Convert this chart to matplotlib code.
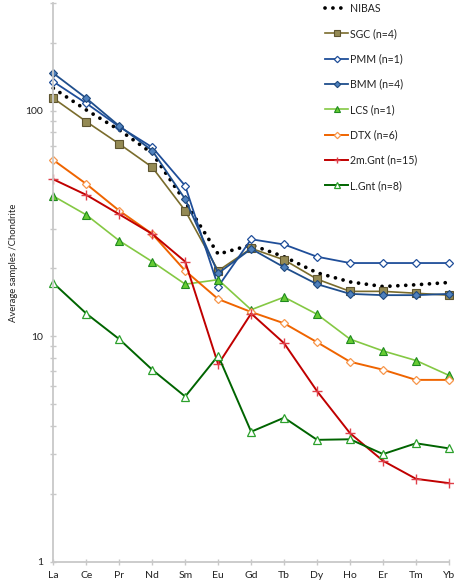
import numpy as np
import matplotlib
matplotlib.use("Agg")
import matplotlib.pyplot as plt
from matplotlib.ticker import LogLocator, NullFormatter, FixedLocator

plt.rcParams['font.family'] = ['Lato', 'DejaVu Sans']

elements = ['La', 'Ce', 'Pr', 'Nd', 'Sm', 'Eu', 'Gd', 'Tb', 'Dy', 'Ho', 'Er', 'Tm', 'Yb']

# chondrite-normalised averages
nibas = [125.7, 100.7, 82.1, 64.7, 39.4, 23.1, 25.4, 22.5, 19.1, 17.4, 16.6, 16.9, 17.3]
sgc = [113.5, 89.4, 71.2, 56.1, 36.0, 19.5, 24.5, 21.8, 17.9, 15.8, 15.8, 15.5, 15.2]
pmm = [134.5, 107.8, 84.9, 68.8, 46.4, 16.6, 26.9, 25.5, 22.5, 21.1, 21.1, 21.1, 21.1]
bmm = [146.5, 113.5, 85.5, 66.5, 40.5, 19.0, 24.4, 20.2, 17.0, 15.4, 15.2, 15.2, 15.4]
lcs = [41.8, 34.5, 26.5, 21.4, 17.0, 17.8, 13.1, 14.9, 12.5, 9.7, 8.6, 7.8, 6.7]
dtx = [60.4, 47.3, 36.0, 28.4, 19.5, 14.6, 12.8, 11.4, 9.4, 7.7, 7.1, 6.4, 6.4]
gnt_2m = [49.6, 42.3, 34.7, 28.4, 21.4, 7.5, 12.6, 9.3, 5.7, 3.71, 2.80, 2.33, 2.23]
gnt_l = [17.2, 12.6, 9.7, 7.1, 5.4, 8.2, 3.77, 4.35, 3.47, 3.49, 3.0, 3.35, 3.18]

x = np.arange(len(elements))

fig = plt.figure(figsize=(4.54, 5.81), dpi=100)
ax = fig.add_axes([0.1174, 0.0332, 0.9890 - 0.1174, 0.9948 - 0.0332])

ax.plot(x, nibas, color='black', linestyle=(0, (0.01, 2.1)), linewidth=2.7,
        dash_capstyle='round', label='NIBAS', clip_on=False, zorder=1)
ax.plot(x, sgc, color='#7a6c2c', linewidth=1.2, marker='s', markersize=5.5,
        markerfacecolor='#948a54', markeredgecolor='#5e5530', markeredgewidth=0.8,
        label='SGC (n=4)', clip_on=False)
ax.plot(x, pmm, color='#1f4e99', linewidth=1.3, marker='D', markersize=4.3,
        markerfacecolor='white', markeredgecolor='#1f4e99', markeredgewidth=0.9,
        label='PMM (n=1)', clip_on=False)
ax.plot(x, bmm, color='#1f4e8c', linewidth=1.3, marker='D', markersize=4.3,
        markerfacecolor='#4f81bd', markeredgecolor='#1f497d', markeredgewidth=0.8,
        label='BMM (n=4)', clip_on=False)
ax.plot(x, lcs, color='#84c843', linewidth=1.2, marker='^', markersize=5.5,
        markerfacecolor='#66cc33', markeredgecolor='#1f8a1f', markeredgewidth=0.8,
        label='LCS (n=1)', clip_on=False)
ax.plot(x, dtx, color='#ef6400', linewidth=1.4, marker='D', markersize=4.3,
        markerfacecolor='white', markeredgecolor='#f7964a', markeredgewidth=0.9,
        label='DTX (n=6)', clip_on=False)
ax.plot(x, gnt_2m, color='#c00000', linewidth=1.4, marker='+', markersize=6.5,
        markeredgecolor='#e0404a', markeredgewidth=1.0,
        label='2m.Gnt (n=15)', clip_on=False)
ax.plot(x, gnt_l, color='#006400', linewidth=1.4, marker='^', markersize=5.5,
        markerfacecolor='white', markeredgecolor='#2ca02c', markeredgewidth=0.9,
        label='L.Gnt (n=8)', clip_on=False)

ax.set_yscale('log')
ax.set_ylim(1, 300)
ax.set_xlim(0, 12)

ax.set_xticks(x)
ax.set_xticklabels(elements, fontsize=7.5, color='#222222')
ax.yaxis.set_major_locator(FixedLocator([1, 10, 100]))
ax.yaxis.set_minor_locator(LogLocator(base=10, subs=np.arange(2, 10)))
ax.yaxis.set_minor_formatter(NullFormatter())
ax.set_yticklabels(['1', '10', '100'], fontsize=7.5, color='#222222')

for side in ('top', 'right'):
    ax.spines[side].set_visible(False)
for side in ('left', 'bottom'):
    ax.spines[side].set_color('#c8c8c8')
    ax.spines[side].set_linewidth(1.3)

ax.tick_params(axis='both', which='both', direction='inout', length=5,
               width=1.0, color='#c8c8c8')
ax.tick_params(axis='x', pad=4)
ax.tick_params(axis='y', pad=5)

ax.set_ylabel('Average samples /Chondrite', fontsize=6.8, color='#222222')
ax.yaxis.set_label_coords(-0.09, 0.535)

leg = ax.legend(loc='upper left', bbox_to_anchor=(0.695, 1.012),
                bbox_transform=fig.transFigure, frameon=False, fontsize=7.6,
                labelspacing=1.36, handlelength=2.2, handletextpad=0.15,
                markerscale=0.75)
for t in leg.get_texts():
    t.set_color('#222222')

fig.savefig('out.png', dpi=100)
